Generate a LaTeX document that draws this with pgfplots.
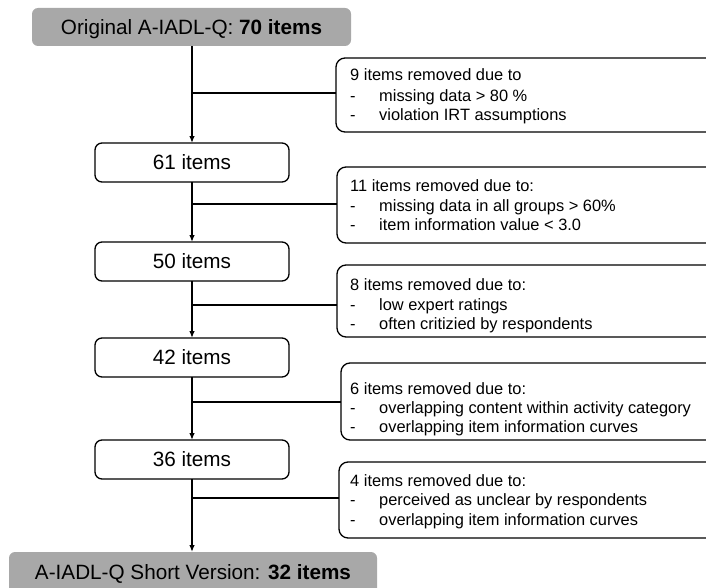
\documentclass[border=0pt]{standalone}
\usepackage{fontspec}
\setmainfont{Liberation Sans}
\usepackage{pgfplots}
\pgfplotsset{compat=1.18}
\usetikzlibrary{arrows.meta}
\definecolor{boxgray}{RGB}{168,168,168}
\newcommand\bigfont{\fontsize{20.7bp}{24bp}\selectfont}
\newcommand\rfont{\fontsize{16.4bp}{19bp}\selectfont}
\newcommand\rbox[9]{%
  \draw[line width=1.3bp, rounded corners=9bp] (axis cs:720,#2) -- (axis cs:#1,#2) -- (axis cs:#1,#3) -- (axis cs:720,#3);
  \node[anchor=base west, inner sep=0, font=\rfont] at (axis cs:350,#4) {#7};
  \node[anchor=base west, inner sep=0, font=\rfont] at (axis cs:350,#5) {-};
  \node[anchor=base west, inner sep=0, font=\rfont] at (axis cs:379,#5) {#8};
  \node[anchor=base west, inner sep=0, font=\rfont] at (axis cs:350,#6) {-};
  \node[anchor=base west, inner sep=0, font=\rfont] at (axis cs:379,#6) {#9};
}
\newcommand\cbox[2]{%
  \node[draw, line width=1.3bp, rounded corners=7bp, minimum width=194bp, minimum height=39bp, inner sep=0, font=\bigfont] at (axis cs:192,#1) {#2};
}
\begin{document}
\begin{tikzpicture}
\begin{axis}[width=706bp, height=588bp, scale only axis,
  xmin=0, xmax=706, ymin=0, ymax=588, y dir=reverse,
  hide axis, clip=true]
% flow lines (item counts 70 -> 61 -> 50 -> 42 -> 36 -> 32)
\addplot[line width=1.3bp, -{Latex[length=7bp,width=5.5bp]}] coordinates {(192,46) (192,143)};
\addplot[line width=1.3bp, -{Latex[length=7bp,width=5.5bp]}] coordinates {(192,182) (192,242)};
\addplot[line width=1.3bp, -{Latex[length=7bp,width=5.5bp]}] coordinates {(192,281) (192,338)};
\addplot[line width=1.3bp, -{Latex[length=7bp,width=5.5bp]}] coordinates {(192,377) (192,440)};
\addplot[line width=1.3bp, -{Latex[length=7bp,width=5.5bp]}] coordinates {(192,479) (192,552)};
% connectors to removal boxes
\addplot[line width=1.3bp] coordinates {(192,93) (336,93)};
\addplot[line width=1.3bp] coordinates {(192,204) (337,204)};
\addplot[line width=1.3bp] coordinates {(192,305) (337,305)};
\addplot[line width=1.3bp] coordinates {(192,402) (341,402)};
\addplot[line width=1.3bp] coordinates {(192,498) (339,498)};
% top and bottom boxes
\fill[boxgray, rounded corners=6bp] (axis cs:32,8) rectangle (axis cs:351,46);
\node[anchor=base, inner sep=0, font=\bigfont] at (axis cs:191.5,35) {Original A-IADL-Q: \textbf{70 items}};
\fill[boxgray, rounded corners=6bp] (axis cs:9,552) rectangle (axis cs:377,600);
\node[anchor=base, inner sep=0, font=\bigfont] at (axis cs:193,579) {A-IADL-Q Short Version: \textbf{32 items}};
% center boxes
\cbox{162.5}{61 items}
\cbox{261.5}{50 items}
\cbox{357.5}{42 items}
\cbox{459.5}{36 items}
% removal boxes
\rbox{336}{58}{132}{81}{101}{120}{9 items removed due to}{missing data > 80 \%}{violation IRT assumptions}
\rbox{337}{167}{243}{191}{211}{230}{11 items removed due to:}{missing data in all groups > 60\%}{item information value < 3.0}
\rbox{337}{265}{337}{290}{310}{329}{8 items removed due to:}{low expert ratings}{often critizied by respondents}
\rbox{341}{363}{440}{394}{413}{432}{6 items removed due to:}{overlapping content within activity category}{overlapping item information curves}
\rbox{339}{462}{538}{486}{505}{525}{4 items removed due to:}{perceived as unclear by respondents}{overlapping item information curves}
\end{axis}
\pgfresetboundingbox
\path[use as bounding box] (current axis.south west) rectangle (current axis.north east);
\end{tikzpicture}
\end{document}
